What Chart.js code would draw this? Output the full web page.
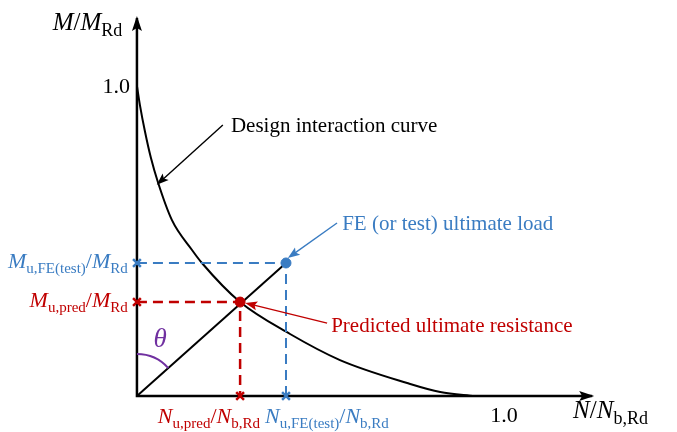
<!DOCTYPE html>
<html>
<head>
<meta charset="utf-8">
<script src="https://cdn.jsdelivr.net/npm/chart.js@4.4.1/dist/chart.umd.min.js"></script>
<style>
  html, body { margin: 0; padding: 0; background: #fff; }
</style>
</head>
<body>
<canvas id="chart" width="677" height="432"></canvas>
<script>
// design interaction curve (N/Nb,Rd vs M/MRd)
const curveN = [0, 0.008, 0.022, 0.038, 0.057, 0.095, 0.150, 0.177, 0.281, 0.417, 0.553, 0.736, 0.826, 0.921];
const curveM = [1.0, 0.939, 0.852, 0.768, 0.690, 0.568, 0.471, 0.429, 0.303, 0.200, 0.116, 0.042, 0.013, 0.0];

// predicted resistance and FE (or test) ultimate load
const predPoint = [0.281, 0.303];
const fePoint = [0.406, 0.429];

// axes
const axisEnd = [1.240, 1.219];
const xTicks = [1.0];
const yTicks = [1.0];

const BLUE = '#3a7cc2';
const RED = '#c00000';
const PURPLE = '#7030a0';
const serif = '"Liberation Serif", "Times New Roman", serif';

function pt(x, y) { return { x: x, y: y }; }

// dashed guide from y axis to point and down to x axis
function guide(p) { return [pt(0, p[1]), pt(p[0], p[1]), pt(p[0], 0)]; }

function drawRich(ctx, parts, x, y, align, color, size, subSize) {
  const fontOf = k => k === 'i' ? `italic ${size}px ${serif}` : k === 's' ? `${subSize}px ${serif}` : `${size}px ${serif}`;
  ctx.save();
  ctx.fillStyle = color;
  ctx.textBaseline = 'alphabetic';
  let w = 0;
  parts.forEach(([t, k]) => { ctx.font = fontOf(k); w += ctx.measureText(t).width; });
  let cx = align === 'right' ? x - w : align === 'center' ? x - w / 2 : x;
  parts.forEach(([t, k]) => {
    ctx.font = fontOf(k);
    ctx.fillText(t, cx, k === 's' ? y + Math.round(size * 0.24) : y);
    cx += ctx.measureText(t).width;
  });
  ctx.restore();
}

function arrowHead(ctx, x0, y0, x1, y1, len, half, color) {
  const a = Math.atan2(y1 - y0, x1 - x0);
  ctx.save();
  ctx.translate(x1, y1);
  ctx.rotate(a);
  ctx.beginPath();
  ctx.moveTo(0, 0);
  ctx.lineTo(-len, -half);
  ctx.lineTo(-len * 0.8, 0);
  ctx.lineTo(-len, half);
  ctx.closePath();
  ctx.fillStyle = color;
  ctx.fill();
  ctx.restore();
}

// labels placed in data units
const labels = [
  { parts: [['M', 'i'], ['/', 'r'], ['M', 'i'], ['Rd', 's']], at: [-0.04, 1.181], align: 'right', color: '#000', size: 25, sub: 18 },
  { parts: [['N', 'i'], ['/', 'r'], ['N', 'i'], ['b,Rd', 's']], at: [1.188, -0.071], align: 'left', color: '#000', size: 25, sub: 18 },
  { parts: [['M', 'i'], ['u,FE(test)', 's'], ['/', 'r'], ['M', 'i'], ['Rd', 's']], at: [-0.025, 0.413], align: 'right', color: BLUE, size: 22, sub: 15 },
  { parts: [['M', 'i'], ['u,pred', 's'], ['/', 'r'], ['M', 'i'], ['Rd', 's']], at: [-0.025, 0.287], align: 'right', color: RED, size: 22, sub: 15 },
  { parts: [['N', 'i'], ['u,pred', 's'], ['/', 'r'], ['N', 'i'], ['b,Rd', 's']], at: [0.057, -0.087], align: 'left', color: RED, size: 22, sub: 15 },
  { parts: [['N', 'i'], ['u,FE(test)', 's'], ['/', 'r'], ['N', 'i'], ['b,Rd', 's']], at: [0.349, -0.087], align: 'left', color: BLUE, size: 22, sub: 15 },
  { parts: [['\u03b8', 'i']], at: [0.063, 0.158], align: 'center', color: PURPLE, size: 27, sub: 18 }
];

const notes = [
  { text: 'Design interaction curve', color: '#000', at: [0.256, 0.852], from: [0.234, 0.874], to: [0.054, 0.681] },
  { text: 'FE (or test) ultimate load', color: BLUE, at: [0.559, 0.535], from: [0.545, 0.558], to: [0.411, 0.445] },
  { text: 'Predicted ultimate resistance', color: RED, at: [0.529, 0.206], from: [0.518, 0.235], to: [0.295, 0.300] }
];

const decor = {
  id: 'decor',
  afterDatasetsDraw(chart) {
    const ctx = chart.ctx;
    const sx = chart.scales.x, sy = chart.scales.y;
    const X = v => sx.getPixelForValue(v), Y = v => sy.getPixelForValue(v);
    const ox = X(0), oy = Y(0);

    // axis arrow heads
    arrowHead(ctx, ox, oy, X(axisEnd[0]) + 2, oy, 15, 5, '#000');
    arrowHead(ctx, ox, oy, ox, Y(axisEnd[1]) - 2, 15, 5, '#000');

    // tick labels
    ctx.save();
    ctx.fillStyle = '#000';
    ctx.font = `22px ${serif}`;
    ctx.textAlign = 'center';
    xTicks.forEach(t => ctx.fillText(t.toFixed(1), X(t), Y(-0.084)));
    ctx.textAlign = 'right';
    yTicks.forEach(t => ctx.fillText(t.toFixed(1), X(-0.019), Y(t - 0.023)));
    ctx.restore();

    // theta arc between M axis and loading path
    const ang = Math.atan2(Y(fePoint[1]) - oy, X(fePoint[0]) - ox);
    ctx.save();
    ctx.strokeStyle = PURPLE;
    ctx.lineWidth = 2;
    ctx.beginPath();
    ctx.arc(ox, oy, 42, -Math.PI / 2, ang);
    ctx.stroke();
    ctx.restore();

    labels.forEach(l => drawRich(ctx, l.parts, X(l.at[0]), Y(l.at[1]), l.align, l.color, l.size, l.sub));

    // callouts
    notes.forEach(n => {
      const x0 = X(n.from[0]), y0 = Y(n.from[1]), x1 = X(n.to[0]), y1 = Y(n.to[1]);
      const a = Math.atan2(y1 - y0, x1 - x0);
      ctx.save();
      ctx.strokeStyle = n.color;
      ctx.lineWidth = 1.4;
      ctx.beginPath();
      ctx.moveTo(x0, y0);
      ctx.lineTo(x1 - Math.cos(a) * 8, y1 - Math.sin(a) * 8);
      ctx.stroke();
      ctx.restore();
      arrowHead(ctx, x0, y0, x1, y1, 12, 4.5, n.color);
      ctx.save();
      ctx.fillStyle = n.color;
      ctx.font = `21px ${serif}`;
      ctx.fillText(n.text, X(n.at[0]), Y(n.at[1]));
      ctx.restore();
    });
  }
};

new Chart(document.getElementById('chart'), {
  type: 'scatter',
  data: {
    datasets: [
      {
        data: [guide(predPoint)[1]],
        pointStyle: 'circle', pointRadius: 5, backgroundColor: RED, borderColor: RED, order: 0
      },
      {
        data: [guide(predPoint)[0], guide(predPoint)[2]],
        pointStyle: 'crossRot', pointRadius: 5.5, borderWidth: 2.5, borderColor: RED, order: 0
      },
      {
        data: [guide(fePoint)[1]],
        pointStyle: 'circle', pointRadius: 5, backgroundColor: BLUE, borderColor: BLUE, order: 0
      },
      {
        data: [guide(fePoint)[0], guide(fePoint)[2]],
        pointStyle: 'crossRot', pointRadius: 5.5, borderWidth: 2.5, borderColor: BLUE, order: 0
      },
      {
        data: guide(predPoint), showLine: true, borderColor: RED, borderWidth: 2.5,
        borderDash: [10, 6], pointRadius: 0, order: 2
      },
      {
        data: guide(fePoint), showLine: true, borderColor: BLUE, borderWidth: 2,
        borderDash: [10, 6], pointRadius: 0, order: 2
      },
      {
        data: curveN.map((n, i) => pt(n, curveM[i])), showLine: true, borderColor: '#000',
        borderWidth: 2, pointRadius: 0, cubicInterpolationMode: 'monotone', order: 3
      },
      {
        data: [pt(0, 0), pt(fePoint[0], fePoint[1])], showLine: true, borderColor: '#000',
        borderWidth: 2, pointRadius: 0, order: 3
      },
      {
        data: [pt(0, axisEnd[1]), pt(0, 0), pt(axisEnd[0], 0)], showLine: true, borderColor: '#000',
        borderWidth: 2.5, pointRadius: 0, borderJoinStyle: 'miter', order: 4
      }
    ]
  },
  options: {
    responsive: false,
    animation: false,
    devicePixelRatio: 1,
    layout: { padding: 0, autoPadding: false },
    plugins: { legend: { display: false }, tooltip: { enabled: false } },
    elements: { line: { tension: 0 } },
    scales: {
      x: { type: 'linear', min: -0.373, max: 1.471, display: false },
      y: { type: 'linear', min: -0.116, max: 1.277, display: false }
    }
  },
  plugins: [decor]
});
</script>
</body>
</html>
